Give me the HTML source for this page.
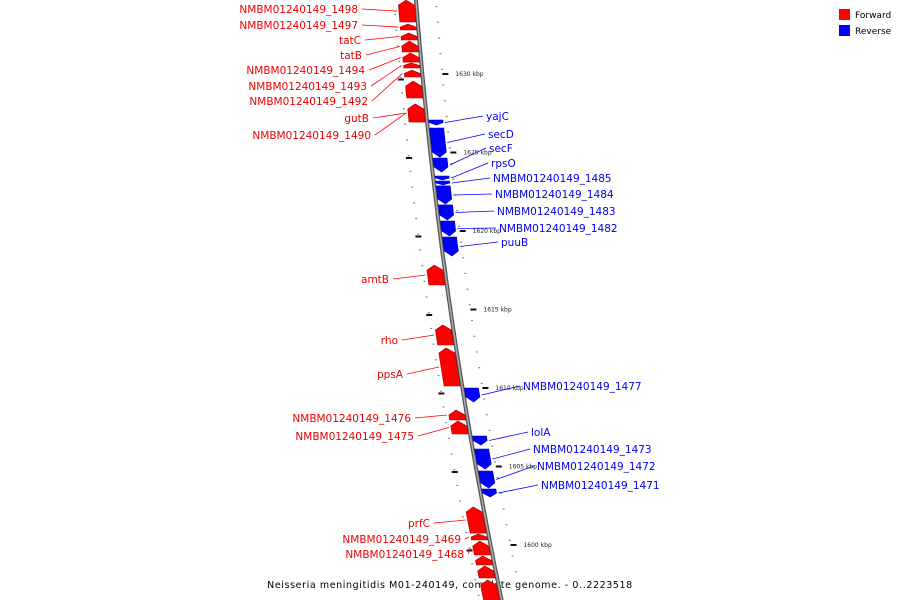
<!DOCTYPE html>
<html><head><meta charset="utf-8"><style>
body{margin:0;background:#fff}
svg{display:block}
text{font-family:"DejaVu Sans","Liberation Sans",sans-serif}
</style></head><body>
<svg id="c" width="900" height="600" viewBox="0 0 900 600">
<g>
<rect x="839" y="9" width="11" height="11" fill="#f00"/>
<text x="855" y="18" font-size="9" fill="#000">Forward</text>
<rect x="839" y="25" width="11" height="11" fill="#00f"/>
<text x="855" y="34" font-size="9" fill="#000">Reverse</text>
</g>
<text x="450" y="588" font-size="9.5" text-anchor="middle" letter-spacing="0.6" fill="#000">Neisseria meningitidis M01-240149, complete genome. - 0..2223518</text>
</svg>
<script>
const fwdNames=["NMBM01240149_1498","NMBM01240149_1497","tatC","tatB","NMBM01240149_1494","NMBM01240149_1493","NMBM01240149_1492","","gutB","NMBM01240149_1490","amtB","rho","ppsA","NMBM01240149_1476","NMBM01240149_1475","prfC","NMBM01240149_1469","NMBM01240149_1468","","",""];
const fwdStart=[1634.71,1633.18,1632.61,1632.10,1631.34,1630.70,1630.25,1629.55,1628.09,1628.09,1617.83,1614.01,1612.55,1608.60,1607.90,1602.42,1600.70,1600.25,1599.30,1598.66,1597.77];
const fwdEnd=[1633.31,1632.80,1632.17,1631.40,1630.76,1630.38,1629.81,1628.47,1626.94,1626.94,1616.56,1612.74,1610.13,1607.96,1607.07,1600.76,1600.32,1599.36,1598.73,1597.90,1596.50];
const revNames=["yajC","secD","secF","rpsO","NMBM01240149_1485","NMBM01240149_1484","NMBM01240149_1483","NMBM01240149_1482","puuB","NMBM01240149_1477","lolA","NMBM01240149_1473","NMBM01240149_1472","NMBM01240149_1471"];
const revStart=[1627.07,1626.56,1624.65,1623.50,1623.18,1622.87,1621.66,1620.64,1619.62,1610.00,1606.94,1606.11,1604.71,1603.57];
const revEnd=[1626.75,1624.71,1623.76,1623.25,1622.93,1621.72,1620.70,1619.68,1618.41,1609.11,1606.37,1604.84,1603.63,1603.06];
const fwdLabelX=[358,358,361,362,365,367,368,0,369,371,389,398,403,411,414,430,461,464,0,0,0];
const fwdLabelY=[9,25,40,55,70,86,101,0,118,135,279,340,374,418,436,523,539,554,0,0,0];
const revLabelX=[486,488,489,491,493,495,497,499,501,523,531,533,537,541];
const revLabelY=[116,134,148,163,178,194,211,228,242,386,432,449,466,485];
const tickKbp=[1630,1625,1620,1615,1610,1605,1600];
const tickLabels=["1630 kbp","1625 kbp","1620 kbp","1615 kbp","1610 kbp","1605 kbp","1600 kbp"];

const NS="http://www.w3.org/2000/svg";
const svg=document.getElementById('c');
function yOf(kb){return 74+(1630-kb)*15.7;}
function bx(y){return 416+0.0777*y+0.0001082*y*y;}
function mk(tag,attrs,parent){const e=document.createElementNS(NS,tag);for(const k in attrs)e.setAttribute(k,attrs[k]);(parent||svg).appendChild(e);return e;}

// backbone
const bb=[];for(let y=-5;y<=605;y+=5)bb.push(bx(y).toFixed(1)+","+y);
const back=mk('polyline',{points:bb.join(' '),fill:'none',stroke:'#555','stroke-width':4});


const back2=mk('polyline',{points:bb.join(' '),fill:'none',stroke:'#aaa','stroke-width':1.5});



// minor ticks
for(let kb=1596;kb<=1635;kb++){
  const y=yOf(kb+0.3);const x=bx(y);
  const d=mk('rect',{x:x+19,y:y-0.5,width:2,height:1.2,fill:'#888'});
  
  
  const y2=yOf(kb-0.2);const x2=bx(y2);
  const d2=mk('rect',{x:x2-23,y:y2-0.5,width:2,height:1.2,fill:'#888'});
  
  
}
// major ticks
tickKbp.forEach((kb,i)=>{
  const y=yOf(kb);const x=bx(y);
  const t=mk('rect',{x:x+20,y:y-1,width:6,height:2,fill:'#111'});
  
  
  const l=mk('text',{x:x+33,y:y+2,'font-size':6,fill:'#222','font-family':'Liberation Serif, serif'});
  l.textContent=tickLabels[i];
  
  
  const y2=yOf(kb-0.35);const x2=bx(y2);
  const t2=mk('rect',{x:x2-25,y:y2-1,width:6,height:2,fill:'#111'});
  
  
});

function feature(s,e,forward,name,lx,ly){
  const y1=yOf(s),y2=yOf(e);
  const h=y2-y1;const ah=Math.min(5,h*0.5);
  const off1=forward?-18:2, off2=forward?-2:16;
  const c=forward?'#f00':'#00f', dk=forward?'#a00':'#00a';
  let pts;
  if(forward){
    const ym=y1+ah;
    pts=[[bx(y1)+(off1+off2)/2,y1],[bx(ym)+off2,ym],[bx(y2)+off2,y2],[bx(y2)+off1,y2],[bx(ym)+off1,ym]];
  }else{
    const ym=y2-ah;
    pts=[[bx(y1)+off1,y1],[bx(y1)+off2,y1],[bx(ym)+off2,ym],[bx(y2)+(off1+off2)/2,y2],[bx(ym)+off1,ym]];
  }
  const p=mk('polygon',{points:pts.map(q=>q[0].toFixed(1)+','+q[1].toFixed(1)).join(' '),fill:c,stroke:dk,'stroke-width':0.6});
  
  
  if(name){
    const ym=(y1+y2)/2;
    const fx=forward?bx(ym)-20:bx(ym)+18;
    const ln=mk('line',{x1:forward?lx+4:lx-3,y1:ly,x2:fx,y2:ym,stroke:c,'stroke-width':0.8});
    
    
    const t=mk('text',{x:lx,y:ly+4,'font-size':10.5,fill:forward?'#e00':'#00e','text-anchor':forward?'end':'start'});
    t.textContent=name;
    
    
  }
}
fwdStart.forEach((s,i)=>feature(s,fwdEnd[i],true,fwdNames[i],fwdLabelX[i],fwdLabelY[i]));
revStart.forEach((s,i)=>feature(s,revEnd[i],false,revNames[i],revLabelX[i],revLabelY[i]));
</script>
</body></html>
